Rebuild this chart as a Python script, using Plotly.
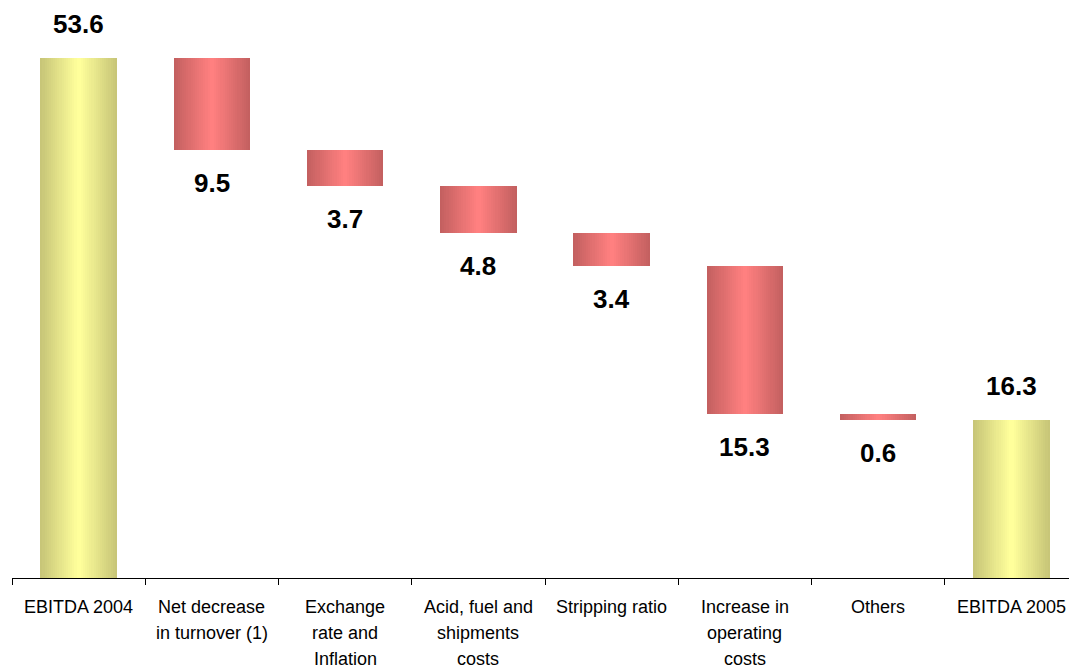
import plotly.graph_objects as go

categories = ["EBITDA 2004", "Net decrease in turnover (1)", "Exchange rate and Inflation",
              "Acid, fuel and shipments costs", "Stripping ratio", "Increase in operating costs",
              "Others", "EBITDA 2005"]
category_lines = [["EBITDA 2004"], ["Net decrease", "in turnover (1)"], ["Exchange", "rate and", "Inflation"],
                  ["Acid, fuel and", "shipments", "costs"], ["Stripping ratio"], ["Increase in", "operating", "costs"],
                  ["Others"], ["EBITDA 2005"]]
start_total = 53.6
decreases = [9.5, 3.7, 4.8, 3.4, 15.3, 0.6]
end_total = 16.3

# build bases / heights from the data
bases = [0]
heights = [start_total]
level = start_total
for d in decreases:
    level = round(level - d, 1)
    bases.append(level)
    heights.append(d)
bases.append(0)
heights.append(end_total)
kinds = ["total"] + ["dec"] * len(decreases) + ["total"]

edge = {"total": (200, 198, 120), "dec": (196, 96, 96)}
center = {"total": (255, 255, 155), "dec": (255, 128, 128)}

fig = go.Figure()
N = 18
full_w = 0.575
for k in range(N):
    t = k / (N - 1)
    w = full_w * (1 - k / N)
    cols = []
    for kd in kinds:
        e, c = edge[kd], center[kd]
        rgb = tuple(int(round(e[i] + (c[i] - e[i]) * t)) for i in range(3))
        cols.append("rgb(%d,%d,%d)" % rgb)
    fig.add_trace(go.Bar(x=categories, y=heights, base=bases, width=[w] * len(categories),
                         marker=dict(color=cols, line=dict(width=0)),
                         showlegend=False, hoverinfo="skip"))

FONT = "Liberation Sans, Arial"
annotations = []
for cat, b, h, kd in zip(categories, bases, heights, kinds):
    if kd == "total":
        annotations.append(dict(x=cat, y=b + h, text="<b>%.1f</b>" % h, showarrow=False,
                                yanchor="bottom", yshift=17,
                                font=dict(family=FONT, size=26, color="black")))
    else:
        annotations.append(dict(x=cat, y=b, text="<b>%.1f</b>" % h, showarrow=False,
                                yanchor="top", yshift=-16,
                                font=dict(family=FONT, size=26, color="black")))

# category labels, one line each
for cat, lines in zip(categories, category_lines):
    for j, line in enumerate(lines):
        annotations.append(dict(x=cat, xref="x", y=0, yref="paper", text=line, showarrow=False,
                                yanchor="middle", yshift=-(29 + 26 * j),
                                font=dict(family=FONT, size=18, color="black")))

fig.update_layout(
    width=1077, height=669,
    barmode="overlay", bargap=0,
    margin=dict(l=4, r=7, t=0, b=99),
    plot_bgcolor="white", paper_bgcolor="white",
    annotations=annotations,
    font=dict(family=FONT, size=18, color="black"),
    xaxis=dict(showline=True, linecolor="black", linewidth=1, ticks="outside", ticklen=6,
               tickcolor="black", tickson="boundaries", showgrid=False, zeroline=False,
               showticklabels=False),
    yaxis=dict(visible=False, range=[0, 58.76], showgrid=False, zeroline=False),
)

fig.write_html("out.html")
